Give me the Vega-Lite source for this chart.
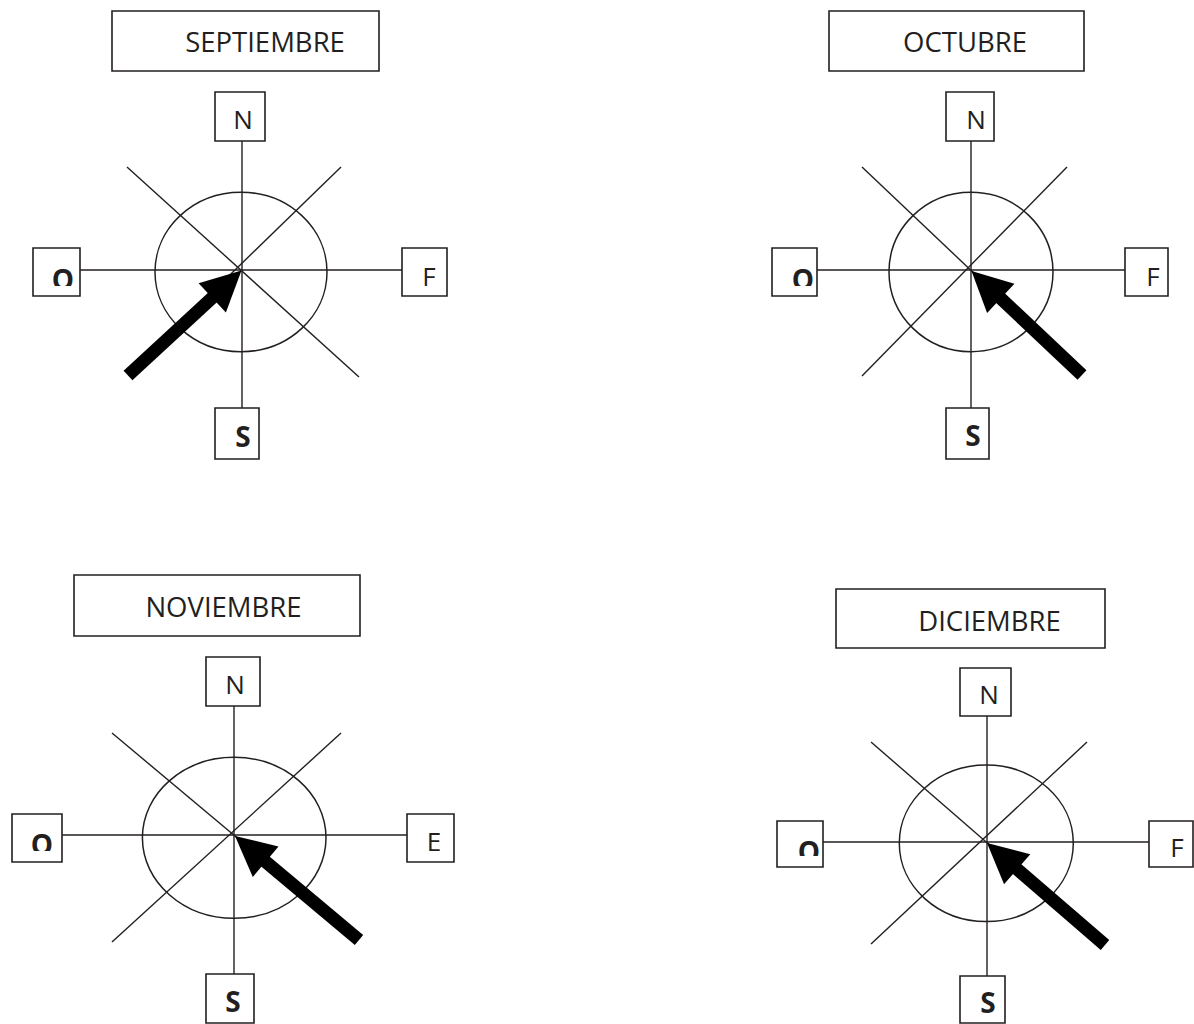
{
  "$schema": "https://vega.github.io/schema/vega-lite/v6.json",
  "width": 1194,
  "height": 1024,
  "autosize": {"type": "fit", "contains": "padding"},
  "padding": 0,
  "background": "white",
  "config": {"view": {"stroke": null}},
  "datasets": {
    "lines": [
      {"month": "Septiembre", "x": 242, "y": 141, "x2": 242, "y2": 408},
      {"month": "Septiembre", "x": 80, "y": 270, "x2": 402, "y2": 270},
      {"month": "Septiembre", "x": 127, "y": 167, "x2": 359, "y2": 377},
      {"month": "Septiembre", "x": 341, "y": 167, "x2": 132, "y2": 370},
      {"month": "Octubre", "x": 971, "y": 141, "x2": 971, "y2": 408},
      {"month": "Octubre", "x": 817, "y": 270, "x2": 1125, "y2": 270},
      {"month": "Octubre", "x": 862, "y": 167, "x2": 1076, "y2": 370},
      {"month": "Octubre", "x": 1067, "y": 167, "x2": 862, "y2": 376},
      {"month": "Noviembre", "x": 234, "y": 706, "x2": 234, "y2": 974},
      {"month": "Noviembre", "x": 62, "y": 835, "x2": 407, "y2": 835},
      {"month": "Noviembre", "x": 112, "y": 733, "x2": 352, "y2": 934},
      {"month": "Noviembre", "x": 341, "y": 733, "x2": 112, "y2": 942},
      {"month": "Diciembre", "x": 987, "y": 716, "x2": 987, "y2": 976},
      {"month": "Diciembre", "x": 823, "y": 842, "x2": 1149, "y2": 842},
      {"month": "Diciembre", "x": 871, "y": 742, "x2": 1098, "y2": 939},
      {"month": "Diciembre", "x": 1087, "y": 742, "x2": 871, "y2": 944}
    ],
    "boxes": [
      {"month": "Septiembre", "role": "title", "x": 112, "x2": 379, "y": 11, "y2": 71},
      {"month": "Septiembre", "role": "N", "x": 215, "x2": 265, "y": 92, "y2": 141},
      {"month": "Septiembre", "role": "S", "x": 215, "x2": 259, "y": 408, "y2": 459},
      {"month": "Septiembre", "role": "O", "x": 33, "x2": 80, "y": 248, "y2": 296},
      {"month": "Septiembre", "role": "E", "x": 402, "x2": 447, "y": 248, "y2": 296},
      {"month": "Octubre", "role": "title", "x": 829, "x2": 1084, "y": 11, "y2": 71},
      {"month": "Octubre", "role": "N", "x": 946, "x2": 994, "y": 92, "y2": 141},
      {"month": "Octubre", "role": "S", "x": 946, "x2": 989, "y": 408, "y2": 459},
      {"month": "Octubre", "role": "O", "x": 772, "x2": 817, "y": 248, "y2": 296},
      {"month": "Octubre", "role": "E", "x": 1125, "x2": 1168, "y": 248, "y2": 296},
      {"month": "Noviembre", "role": "title", "x": 74, "x2": 360, "y": 575, "y2": 636},
      {"month": "Noviembre", "role": "N", "x": 206, "x2": 260, "y": 657, "y2": 706},
      {"month": "Noviembre", "role": "S", "x": 206, "x2": 254, "y": 974, "y2": 1023},
      {"month": "Noviembre", "role": "O", "x": 12, "x2": 62, "y": 814, "y2": 862},
      {"month": "Noviembre", "role": "E", "x": 407, "x2": 454, "y": 814, "y2": 862},
      {"month": "Diciembre", "role": "title", "x": 836, "x2": 1105, "y": 589, "y2": 648},
      {"month": "Diciembre", "role": "N", "x": 960, "x2": 1011, "y": 668, "y2": 716},
      {"month": "Diciembre", "role": "S", "x": 960, "x2": 1005, "y": 976, "y2": 1023},
      {"month": "Diciembre", "role": "O", "x": 777, "x2": 823, "y": 821, "y2": 867},
      {"month": "Diciembre", "role": "E", "x": 1149, "x2": 1193, "y": 821, "y2": 867}
    ],
    "masks": [
      {"month": "Septiembre", "x": 51, "x2": 76, "y": 286, "y2": 295},
      {"month": "Octubre", "x": 791, "x2": 815.5, "y": 286, "y2": 295},
      {"month": "Noviembre", "x": 30, "x2": 55, "y": 851, "y2": 861},
      {"month": "Diciembre", "x": 796, "x2": 821.5, "y": 856, "y2": 866}
    ],
    "labels": [
      {"month": "Septiembre", "style": "title", "label": "SEPTIEMBRE", "x": 265, "y": 52},
      {"month": "Septiembre", "style": "regular", "label": "N", "x": 243, "y": 129},
      {"month": "Septiembre", "style": "bold", "label": "S", "x": 243, "y": 447},
      {"month": "Septiembre", "style": "bold", "label": "O", "x": 63, "y": 290},
      {"month": "Septiembre", "style": "regular", "label": "F", "x": 429, "y": 286},
      {"month": "Octubre", "style": "title", "label": "OCTUBRE", "x": 965, "y": 52},
      {"month": "Octubre", "style": "regular", "label": "N", "x": 976, "y": 129},
      {"month": "Octubre", "style": "bold", "label": "S", "x": 973, "y": 446},
      {"month": "Octubre", "style": "bold", "label": "O", "x": 803, "y": 290},
      {"month": "Octubre", "style": "regular", "label": "F", "x": 1153, "y": 286},
      {"month": "Noviembre", "style": "title", "label": "NOVIEMBRE", "x": 223.5, "y": 617},
      {"month": "Noviembre", "style": "regular", "label": "N", "x": 235, "y": 694},
      {"month": "Noviembre", "style": "bold", "label": "S", "x": 233, "y": 1012},
      {"month": "Noviembre", "style": "bold", "label": "O", "x": 42, "y": 855},
      {"month": "Noviembre", "style": "regular", "label": "E", "x": 434, "y": 851},
      {"month": "Diciembre", "style": "title", "label": "DICIEMBRE", "x": 989.5, "y": 631},
      {"month": "Diciembre", "style": "regular", "label": "N", "x": 989, "y": 704},
      {"month": "Diciembre", "style": "bold", "label": "S", "x": 988, "y": 1013},
      {"month": "Diciembre", "style": "bold", "label": "O", "x": 809, "y": 862},
      {"month": "Diciembre", "style": "regular", "label": "F", "x": 1177, "y": 857}
    ],
    "arrows": [
      {"month": "Septiembre", "x": 128, "y": 375.5, "x2": 217.4, "y2": 293.0, "tipx": 241.5, "tipy": 270.5, "angle": 47},
      {"month": "Octubre", "x": 1082, "y": 375, "x2": 995.6, "y2": 293.5, "tipx": 971.5, "tipy": 271, "angle": 313},
      {"month": "Noviembre", "x": 359, "y": 940, "x2": 260.3, "y2": 857.2, "tipx": 235, "tipy": 836, "angle": 310},
      {"month": "Diciembre", "x": 1105, "y": 945, "x2": 1011.9, "y2": 864.6, "tipx": 987, "tipy": 843, "angle": 311}
    ],
    "ellipses": [
      {"month": "Septiembre", "cx": 241, "cy": 272},
      {"month": "Octubre", "cx": 971, "cy": 272},
      {"month": "Noviembre", "cx": 234.2, "cy": 837.8},
      {"month": "Diciembre", "cx": 986.3, "cy": 843.3}
    ]
  },
  "layer": [
    {
      "data": {"name": "lines"},
      "mark": {"type": "rule", "stroke": "#231f20", "strokeWidth": 1.4},
      "encoding": {
        "x": {"field": "x", "type": "quantitative", "scale": {"domain": [0, 1194], "nice": false, "zero": false}, "axis": null},
        "y": {"field": "y", "type": "quantitative", "scale": {"domain": [0, 1024], "nice": false, "zero": false, "reverse": true}, "axis": null},
        "x2": {"field": "x2"},
        "y2": {"field": "y2"}
      }
    },
    {
      "data": {"name": "ellipses"},
      "transform": [{"filter": "datum.month === 'Septiembre'"}],
      "mark": {"type": "point", "shape": "M-1,0A1,0.927,0,1,1,1,0A1,0.927,0,1,1,-1,0Z", "size": 29584, "filled": false, "stroke": "#231f20", "strokeWidth": 1.5, "opacity": 1},
      "encoding": {"x": {"field": "cx", "type": "quantitative"}, "y": {"field": "cy", "type": "quantitative"}}
    },
    {
      "data": {"name": "ellipses"},
      "transform": [{"filter": "datum.month === 'Octubre'"}],
      "mark": {"type": "point", "shape": "M-1,0A1,0.972,0,1,1,1,0A1,0.972,0,1,1,-1,0Z", "size": 26896, "filled": false, "stroke": "#231f20", "strokeWidth": 1.5, "opacity": 1},
      "encoding": {"x": {"field": "cx", "type": "quantitative"}, "y": {"field": "cy", "type": "quantitative"}}
    },
    {
      "data": {"name": "ellipses"},
      "transform": [{"filter": "datum.month === 'Noviembre'"}],
      "mark": {"type": "point", "shape": "M-1,0A1,0.877,0,1,1,1,0A1,0.877,0,1,1,-1,0Z", "size": 33709, "filled": false, "stroke": "#231f20", "strokeWidth": 1.5, "opacity": 1},
      "encoding": {"x": {"field": "cx", "type": "quantitative"}, "y": {"field": "cy", "type": "quantitative"}}
    },
    {
      "data": {"name": "ellipses"},
      "transform": [{"filter": "datum.month === 'Diciembre'"}],
      "mark": {"type": "point", "shape": "M-1,0A1,0.9,0,1,1,1,0A1,0.9,0,1,1,-1,0Z", "size": 30276, "filled": false, "stroke": "#231f20", "strokeWidth": 1.5, "opacity": 1},
      "encoding": {"x": {"field": "cx", "type": "quantitative"}, "y": {"field": "cy", "type": "quantitative"}}
    },
    {
      "data": {"name": "arrows"},
      "mark": {"type": "rule", "stroke": "#000000", "strokeWidth": 13, "strokeCap": "butt"},
      "encoding": {
        "x": {"field": "x", "type": "quantitative"},
        "y": {"field": "y", "type": "quantitative"},
        "x2": {"field": "x2"},
        "y2": {"field": "y2"}
      }
    },
    {
      "data": {"name": "arrows"},
      "mark": {"type": "point", "shape": "M0,0L-1,2L1,2Z", "size": 1600, "filled": true, "fill": "#000000", "strokeWidth": 0, "opacity": 1},
      "encoding": {
        "x": {"field": "tipx", "type": "quantitative"},
        "y": {"field": "tipy", "type": "quantitative"},
        "angle": {"field": "angle", "type": "quantitative", "scale": null}
      }
    },
    {
      "data": {"name": "boxes"},
      "mark": {"type": "rect", "fill": "white", "stroke": "#231f20", "strokeWidth": 1.6},
      "encoding": {
        "x": {"field": "x", "type": "quantitative"},
        "x2": {"field": "x2"},
        "y": {"field": "y", "type": "quantitative"},
        "y2": {"field": "y2"}
      }
    },
    {
      "data": {"name": "labels"},
      "transform": [{"filter": "datum.style === 'title'"}],
      "mark": {"type": "text", "font": "Open Sans", "fontSize": 27.5, "fill": "#231f20", "align": "center", "baseline": "alphabetic"},
      "encoding": {
        "x": {"field": "x", "type": "quantitative"},
        "y": {"field": "y", "type": "quantitative"},
        "text": {"field": "label"}
      }
    },
    {
      "data": {"name": "labels"},
      "transform": [{"filter": "datum.style === 'regular'"}],
      "mark": {"type": "text", "font": "Open Sans", "fontSize": 26, "fill": "#231f20", "align": "center", "baseline": "alphabetic"},
      "encoding": {
        "x": {"field": "x", "type": "quantitative"},
        "y": {"field": "y", "type": "quantitative"},
        "text": {"field": "label"}
      }
    },
    {
      "data": {"name": "labels"},
      "transform": [{"filter": "datum.style === 'bold'"}],
      "mark": {"type": "text", "font": "Open Sans", "fontSize": 28, "fontWeight": "bold", "fill": "#231f20", "align": "center", "baseline": "alphabetic"},
      "encoding": {
        "x": {"field": "x", "type": "quantitative"},
        "y": {"field": "y", "type": "quantitative"},
        "text": {"field": "label"}
      }
    },
    {
      "data": {"name": "masks"},
      "mark": {"type": "rect", "fill": "white", "strokeWidth": 0},
      "encoding": {
        "x": {"field": "x", "type": "quantitative"},
        "x2": {"field": "x2"},
        "y": {"field": "y", "type": "quantitative"},
        "y2": {"field": "y2"}
      }
    }
  ]
}
